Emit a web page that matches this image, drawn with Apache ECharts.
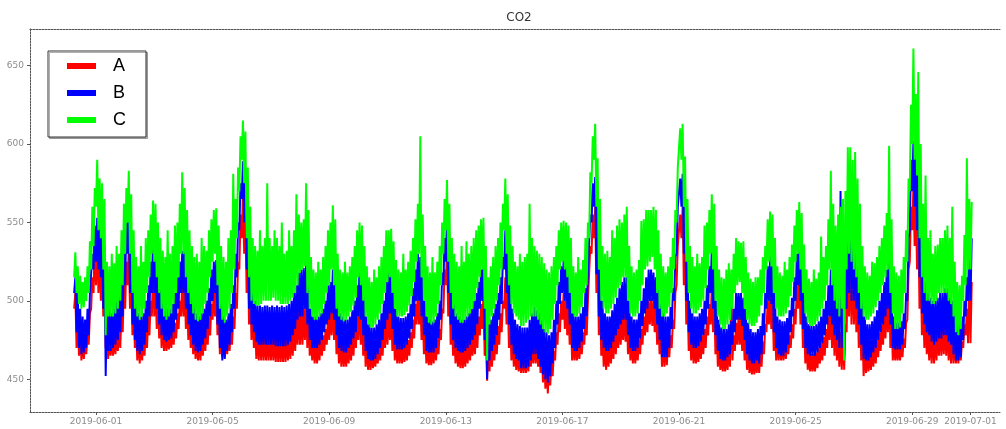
<!DOCTYPE html>
<html>
<head>
<meta charset="utf-8">
<script src="https://cdn.jsdelivr.net/npm/echarts@6/dist/echarts.min.js"></script>
<style>
html, body { margin: 0; padding: 0; background: #ffffff; }
#chart { width: 1006px; height: 429px; }
</style>
</head>
<body>
<div id="chart"></div>
<script>
// Hourly CO2 readings, three sensors, starting 2019-05-31 06:00 (UTC).
const seriesNames = ['A', 'B', 'C'];
const seriesColors = ['#ff0000', '#0000ff', '#00ff00'];
const firstSample = '2019-05-31T06:00:00Z';
const sampleHours = 1;
const yTickValues = [450, 500, 550, 600, 650];
const xTickDates = ['2019-06-01', '2019-06-05', '2019-06-09', '2019-06-13', '2019-06-17',
  '2019-06-21', '2019-06-25', '2019-06-29', '2019-07-01'];

const valuesA = [
  495,505, 470,490, 465,480, 462,475, 463,474, 466,480, 472,492, 495,515, 505,540,
  510,543, 505,535, 500,528, 490,520, 470,482, 463,478, 465,476, 465,478, 466,480, 468,485, 470,495, 480,510,
  495,525, 510,534, 495,520, 478,500, 470,485, 462,478, 460,475, 462,476, 465,482, 470,490, 478,500, 490,524,
  490,518, 482,508, 476,495, 470,488, 468,482, 468,480, 469,480, 470,482, 472,486, 476,492, 482,500, 490,513,
  490,512, 482,505, 475,495, 470,485, 466,480, 463,476, 462,475, 462,476, 465,480, 468,484, 472,490, 478,498,
  488,508, 490,510, 478,500, 466,485, 464,478, 464,476, 466,478, 468,482, 472,490, 482,505, 495,525, 520,555,
  540,569, 530,560, 505,535, 485,510, 475,495, 470,488, 463,480, 462,480, 462,480, 462,480, 462,480, 462,480,
  462,480, 462,478, 461,478, 461,478, 461,478, 461,478, 461,478, 462,480, 463,482, 465,485, 468,490, 472,495,
  472,496, 472,496, 475,500, 470,492, 465,480, 462,475, 460,474, 460,474, 462,476, 465,478, 468,482, 472,490,
  475,495, 478,505, 475,498, 466,485, 460,476, 458,474, 458,472, 458,472, 460,475, 462,478, 465,482, 470,490,
  475,505, 472,498, 465,485, 458,475, 456,470, 456,468, 457,468, 458,470, 460,473, 462,476, 465,482, 470,490,
  472,495, 475,500, 468,490, 462,478, 460,474, 460,472, 460,472, 461,473, 462,475, 465,480, 470,488, 476,498,
  485,509, 485,505, 475,495, 466,482, 460,474, 459,472, 459,472, 460,473, 462,476, 466,482, 475,495, 492,520,
  510,534, 490,515, 472,492, 465,480, 460,475, 458,472, 457,471, 457,471, 458,472, 460,474, 462,477, 465,480,
  466,485, 470,490, 478,498, 482,505, 465,485, 449,475, 455,470, 458,474, 462,478, 466,484, 472,492, 480,500,
  495,515, 485,505, 470,490, 462,478, 458,472, 456,470, 455,468, 454,466, 454,466, 454,466, 455,468, 458,472,
  460,476, 460,475, 458,473, 454,468, 448,463, 444,460, 441,458, 446,462, 452,468, 462,480, 472,492, 480,500,
  488,505, 482,500, 478,498, 472,490, 462,476, 462,474, 462,474, 463,476, 466,480, 472,490, 478,500, 500,535,
  530,555, 540,560, 505,540, 478,500, 465,482, 458,475, 456,472, 458,474, 460,476, 463,480, 466,484, 470,490,
  472,492, 475,495, 474,495, 466,482, 462,476, 460,474, 460,474, 462,476, 466,482, 472,490, 478,496, 480,500,
  485,502, 484,500, 480,498, 472,490, 466,482, 458,476, 458,474, 459,475, 464,478, 470,488, 482,505, 510,535,
  535,555, 540,560, 510,535, 485,505, 468,485, 462,476, 460,474, 460,474, 461,475, 463,478, 466,482, 470,490,
  478,498, 485,510, 480,502, 466,482, 458,472, 456,468, 455,467, 455,467, 456,470, 458,517, 462,478, 468,486,
  472,490, 472,490, 468,486, 462,478, 456,470, 454,466, 453,465, 453,465, 454,467, 454,468, 458,474, 466,485,
  480,500, 485,505, 482,502, 468,488, 462,476, 462,474, 462,473, 462,473, 463,475, 466,478, 470,485, 476,495,
  485,510, 495,524, 485,510, 470,488, 460,475, 456,468, 455,466, 455,466, 455,467, 457,470, 460,473, 462,477,
  465,482, 470,490, 475,500, 470,495, 465,490, 462,485, 458,480, 456,480, 456,485, 480,520, 490,530, 485,525,
  485,520, 480,510, 470,500, 462,482, 452,470, 454,468, 455,468, 456,470, 458,472, 460,475, 464,480, 468,485,
  472,492, 476,500, 480,519, 470,495, 462,476, 462,472, 462,472, 462,473, 464,476, 470,486, 488,520, 525,560,
  545,573, 535,565, 520,555, 495,525, 478,500, 470,490, 466,485, 462,482, 460,480, 460,480, 462,482, 465,485,
  465,485, 466,486, 465,486, 462,482, 460,480, 460,476, 460,474, 460,472, 462,474, 470,485, 478,495, 473,520,
  473,512
];

const valuesB = [
  505,515, 480,505, 470,495, 466,490, 467,488, 470,495, 478,505, 505,530, 520,548,
  525,553, 520,548, 515,545, 495,535, 452,500, 468,495, 468,492, 470,495, 472,500, 475,505, 480,515, 490,530,
  510,550, 530,564, 505,540, 485,515, 475,500, 468,492, 466,490, 468,492, 472,500, 480,510, 490,525, 505,545,
  505,540, 495,530, 485,515, 478,505, 475,498, 474,495, 475,495, 476,498, 480,505, 488,515, 495,525, 505,532,
  505,535, 495,525, 485,512, 478,502, 472,496, 468,492, 467,490, 468,492, 472,495, 476,500, 482,508, 490,520,
  500,525, 505,526, 485,515, 470,500, 462,490, 463,488, 468,492, 472,498, 480,510, 495,530, 515,550, 545,575,
  565,589, 550,580, 520,555, 495,525, 485,505, 480,500, 474,497, 472,497, 472,496, 472,497, 472,497, 472,496,
  472,497, 472,496, 471,497, 471,496, 471,497, 471,496, 471,497, 472,498, 474,500, 478,505, 482,510, 488,518,
  490,520, 490,521, 495,525, 485,515, 475,495, 470,490, 470,490, 470,490, 472,492, 475,495, 480,500, 485,510,
  488,512, 492,520, 488,515, 478,500, 470,492, 468,490, 467,488, 467,488, 470,490, 472,494, 476,500, 480,510,
  490,524, 488,518, 478,505, 468,490, 463,485, 462,483, 462,483, 463,485, 466,488, 470,492, 475,500, 482,512,
  488,518, 492,524, 482,510, 472,495, 469,490, 469,489, 469,489, 470,490, 472,492, 476,498, 482,508, 490,520,
  500,530, 500,528, 490,515, 478,500, 468,490, 467,488, 467,487, 467,488, 470,492, 476,500, 488,518, 510,540,
  525,553, 505,535, 485,510, 475,498, 470,492, 468,490, 467,488, 467,488, 468,490, 470,492, 472,495, 475,500,
  478,505, 485,512, 495,520, 500,530, 475,505, 450,490, 462,488, 468,492, 472,498, 478,505, 488,515, 498,528,
  520,545, 505,535, 485,512, 472,495, 466,488, 463,485, 462,484, 457,483, 457,483, 457,483, 458,488, 462,492,
  466,496, 466,494, 463,492, 458,488, 453,482, 450,480, 448,478, 452,480, 460,488, 470,500, 485,512, 498,522,
  505,526, 500,522, 495,520, 485,510, 470,492, 468,490, 468,490, 470,492, 474,496, 482,508, 490,520, 520,555,
  550,575, 560,579, 517,565, 490,520, 475,500, 470,492, 468,490, 468,490, 470,494, 474,498, 478,502, 482,508,
  485,512, 488,515, 488,515, 478,500, 470,490, 468,488, 468,488, 470,492, 476,500, 484,508, 492,515, 495,520,
  500,520, 500,518, 495,515, 485,508, 475,498, 464,492, 464,490, 464,490, 470,496, 482,508, 500,528, 530,560,
  560,578, 560,581, 530,560, 500,525, 480,500, 472,492, 470,490, 470,490, 471,492, 474,495, 478,500, 485,510,
  495,522, 505,534, 495,525, 478,500, 468,488, 463,483, 462,482, 462,482, 464,485, 466,487, 472,495, 480,505,
  488,505, 488,505, 484,502, 475,495, 466,486, 462,482, 460,480, 460,480, 462,482, 460,484, 466,492, 478,505,
  495,522, 500,529, 498,525, 480,505, 470,490, 466,488, 465,487, 465,487, 467,489, 472,494, 480,502, 490,515,
  500,530, 510,541, 500,530, 482,505, 470,490, 466,485, 465,484, 465,484, 465,485, 467,487, 470,490, 473,495,
  478,500, 485,510, 490,520, 485,515, 478,510, 475,520, 470,570, 470,530, 465,535, 495,560, 505,582, 500,560,
  500,555, 495,540, 485,525, 472,500, 463,490, 462,485, 462,485, 464,487, 467,490, 470,494, 475,500, 480,505,
  485,512, 490,520, 495,534, 485,515, 470,490, 469,486, 469,486, 469,487, 472,492, 482,505, 500,540, 545,590,
  570,602, 560,595, 545,585, 515,550, 492,520, 485,512, 480,505, 478,502, 474,500, 472,500, 474,502, 476,505,
  476,505, 478,508, 478,508, 474,502, 472,500, 466,495, 462,490, 462,488, 464,490, 475,500, 490,515, 500,545,
  500,540
];

const valuesC = [
  515,531, 505,522, 498,516, 495,512, 496,515, 500,522, 505,538, 520,560, 535,572,
  560,590, 545,578, 540,575, 520,565, 478,525, 490,522, 490,530, 490,524, 492,535, 495,530, 500,545, 510,562,
  530,572, 550,583, 530,568, 505,545, 495,528, 490,522, 488,535, 490,525, 495,540, 505,545, 515,555, 530,564,
  525,562, 515,550, 505,540, 495,532, 490,528, 488,545, 490,530, 492,535, 498,548, 505,550, 515,562, 530,582,
  530,572, 515,558, 505,545, 498,535, 492,528, 488,530, 487,525, 488,540, 492,535, 498,532, 505,545, 515,552,
  525,558, 530,559, 510,548, 495,535, 488,528, 486,525, 490,540, 495,545, 505,581, 520,565, 540,585, 570,605,
  590,615, 575,608, 540,585, 515,560, 500,540, 498,535, 497,532, 497,545, 498,535, 500,540, 500,575, 500,540,
  500,535, 502,545, 500,540, 500,535, 498,550, 498,530, 498,532, 498,545, 500,535, 502,545, 505,568, 510,555,
  518,550, 520,552, 522,575, 505,558, 495,528, 490,520, 488,518, 488,525, 490,520, 492,528, 498,535, 505,545,
  510,550, 520,561, 510,552, 495,530, 490,520, 488,518, 487,525, 488,518, 490,522, 493,528, 497,535, 502,545,
  515,550, 510,548, 500,535, 490,522, 485,515, 483,512, 483,520, 485,515, 488,522, 492,528, 498,535, 505,545,
  512,545, 515,546, 505,538, 495,526, 490,520, 490,518, 490,530, 491,520, 493,525, 497,532, 503,540, 512,552,
  525,562, 530,605, 515,555, 500,535, 490,522, 486,518, 485,528, 486,518, 490,525, 498,535, 510,550, 530,565,
  545,577, 525,562, 505,540, 495,530, 490,525, 488,522, 486,535, 486,525, 488,538, 490,530, 492,535, 495,540,
  500,545, 508,548, 515,552, 520,553, 495,535, 462,515, 485,522, 490,528, 495,535, 500,540, 510,550, 520,562,
  545,578, 530,568, 510,548, 498,535, 492,525, 490,522, 488,530, 484,525, 484,528, 486,530, 488,562, 490,540,
  490,535, 490,532, 488,530, 485,528, 482,524, 480,520, 479,518, 482,522, 488,528, 498,535, 510,545, 520,550,
  525,551, 520,550, 515,548, 505,540, 492,522, 490,518, 490,528, 492,520, 496,526, 505,540, 510,550, 540,582,
  575,605, 590,613, 560,591, 520,565, 500,535, 495,530, 492,532, 492,528, 495,545, 498,540, 502,548, 508,552,
  510,550, 515,555, 515,560, 500,535, 492,522, 490,518, 490,520, 492,526, 500,551, 510,552, 520,558, 522,558,
  525,558, 528,560, 520,558, 505,545, 495,530, 490,522, 490,518, 492,522, 496,528, 505,540, 520,558, 550,585,
  585,610, 590,613, 560,592, 525,565, 505,535, 495,528, 492,522, 492,530, 494,524, 496,528, 500,548, 508,550,
  520,558, 530,568, 520,562, 500,535, 490,520, 485,515, 482,514, 482,520, 485,524, 488,520, 495,530, 505,540,
  510,538, 512,537, 505,538, 495,528, 488,518, 485,514, 484,512, 484,515, 486,515, 490,520, 497,528, 505,535,
  520,552, 525,557, 522,555, 505,540, 495,522, 490,518, 490,516, 490,525, 492,520, 496,528, 503,536, 512,548,
  525,558, 530,563, 520,556, 505,536, 492,520, 486,514, 484,512, 484,520, 485,514, 487,518, 490,541, 495,528,
  500,535, 510,552, 520,583, 510,562, 500,548, 495,555, 490,560, 495,565, 462,570, 520,598, 530,598, 525,590,
  520,595, 515,578, 505,562, 495,535, 490,522, 488,518, 488,516, 490,525, 492,524, 496,528, 500,535, 505,540,
  510,548, 515,556, 520,599, 505,552, 492,522, 482,518, 482,516, 483,520, 492,528, 505,545, 525,578, 570,625,
  600,661, 590,632, 580,646, 540,600, 515,562, 505,580, 500,540, 500,545, 498,530, 498,535, 500,536, 505,540,
  505,540, 505,545, 505,548, 500,540, 498,560, 490,525, 480,512, 478,510, 482,516, 500,542, 510,591, 520,565,
  520,563
];

const seriesValues = [valuesA, valuesB, valuesC];

const HOUR = 3600 * 1000;
const t0 = Date.parse(firstSample);
function withTimes(values) {
  return values.map((v, i) => [t0 + i * sampleHours * HOUR, v]);
}

function pad2(n) { return (n < 10 ? '0' : '') + n; }
function dateLabel(value) {
  const d = new Date(value);
  return d.getUTCFullYear() + '-' + pad2(d.getUTCMonth() + 1) + '-' + pad2(d.getUTCDate());
}

const xTickValues = xTickDates.map(s => Date.parse(s + 'T00:00:00Z'));
const xMin = Date.parse('2019-05-29T17:40:00Z');
const xMax = Date.parse('2019-07-02T00:17:00Z');
const frameLine = { show: true, lineStyle: { color: '#555555', width: 1, type: [2, 1] } };
const tickFont = { fontSize: 9, color: '#8c8c8c', fontFamily: 'DejaVu Sans' };

const chart = echarts.init(document.getElementById('chart'), null, { renderer: 'canvas' });
chart.setOption({
  animation: false,
  backgroundColor: '#ffffff',
  graphic: [{
    type: 'text', x: 519, y: 18,
    style: { text: 'CO2', fontSize: 12, fontFamily: 'DejaVu Sans', fill: '#333333', align: 'center', verticalAlign: 'middle' }
  }],
  legend: {
    data: seriesNames,
    orient: 'vertical',
    left: 48, top: 51,
    icon: 'rect',
    itemWidth: 29, itemHeight: 6, itemGap: 9,
    padding: [6, 20, 8, 19],
    backgroundColor: '#ffffff',
    borderColor: '#333333', borderWidth: 1, borderRadius: 0,
    shadowColor: 'rgba(0,0,0,0.3)', shadowOffsetX: 1.5, shadowOffsetY: 1.5, shadowBlur: 0,
    textStyle: { fontSize: 18, lineHeight: 18, color: '#000000', fontFamily: 'Liberation Sans', padding: [0, 0, 0, 12] },
    selectedMode: false
  },
  grid: { left: 30, right: 6, top: 29, bottom: 17, containLabel: false },
  xAxis: [{
    type: 'value',
    min: xMin, max: xMax,
    axisLine: frameLine,
    axisTick: { show: true, customValues: xTickValues, length: 3, lineStyle: { color: '#555555' } },
    axisLabel: Object.assign({ customValues: xTickValues, formatter: dateLabel, margin: 5 }, tickFont),
    splitLine: { show: false }
  }, {
    type: 'value', position: 'top',
    min: xMin, max: xMax,
    axisLine: frameLine,
    axisTick: { show: false }, axisLabel: { show: false }, splitLine: { show: false }
  }],
  yAxis: {
    type: 'value',
    min: 429.1, max: 673.4,
    axisLine: frameLine,
    axisTick: { show: true, customValues: yTickValues, length: 3, lineStyle: { color: '#555555' } },
    axisLabel: Object.assign({ customValues: yTickValues, margin: 6 }, tickFont),
    splitLine: { show: false }
  },
  series: seriesNames.map((name, k) => ({
    name: name,
    type: 'line',
    xAxisIndex: 0,
    data: withTimes(seriesValues[k]),
    showSymbol: false,
    symbol: 'none',
    silent: true,
    color: seriesColors[k],
    lineStyle: { color: seriesColors[k], width: 2 },
    emphasis: { disabled: true }
  }))
});
</script>
</body>
</html>
